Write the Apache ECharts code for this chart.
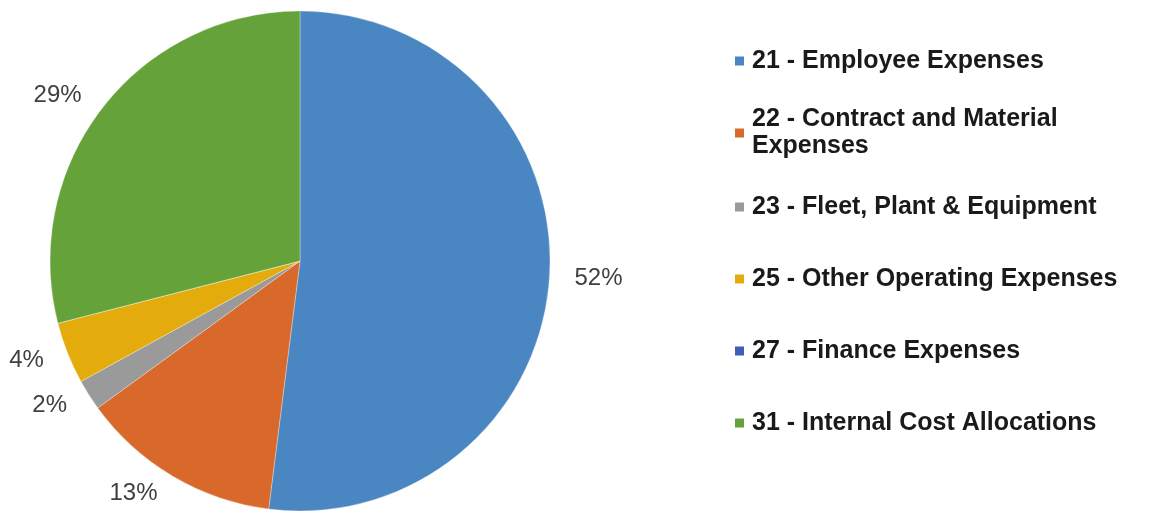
<!DOCTYPE html>
<html>
<head>
<meta charset="utf-8">
<script src="https://cdn.jsdelivr.net/npm/echarts@6/dist/echarts.min.js"></script>
<style>
  html, body { margin: 0; padding: 0; background: #ffffff; }
  #chart { width: 1152px; height: 516px; }
</style>
</head>
<body>
<div id="chart"></div>
<script>
// Expense categories and their share of the total (%)
const categories = [
  '21 - Employee Expenses',
  '22 - Contract and Material Expenses',
  '23 - Fleet, Plant & Equipment',
  '25 - Other Operating Expenses',
  '27 - Finance Expenses',
  '31 - Internal Cost Allocations'
];
const shares = [52, 13, 2, 4, 0, 29];
const colors = ['#4a86c2', '#d9692a', '#9a9a9a', '#e3ac0c', '#3f5fb5', '#65a23a'];

// Legend rows: vertical centre of each entry's marker
const legendCenters = [61, 133, 207, 279, 351, 423];

const data = categories.map((name, i) => ({
  name: name,
  value: shares[i],
  itemStyle: { color: colors[i] },
  label: { show: shares[i] > 0 }
}));

const legendFont = {
  fontFamily: "'Liberation Sans', Arial, sans-serif",
  fontWeight: 'bold',
  fontSize: 25,
  color: '#1a1a1a',
  lineHeight: 28,
  padding: [0, 0, 0, 3]
};

const legends = categories.map((name, i) => {
  const twoLine = name.indexOf('Contract') >= 0;
  return {
    data: [name],
    orient: 'vertical',
    left: 735,
    top: twoLine ? legendCenters[i] - 40.5 : legendCenters[i] - 14,
    padding: 0,
    icon: 'rect',
    itemWidth: 9,
    itemHeight: 9,
    itemGap: 0,
    itemStyle: { borderWidth: 0 },
    selectedMode: false,
    formatter: twoLine ? (n) => n.replace(' Expenses', '\nExpenses') : undefined,
    textStyle: twoLine
      ? Object.assign({}, legendFont, { lineHeight: 27, padding: [27, 0, 0, 3] })
      : legendFont
  };
});

const chart = echarts.init(document.getElementById('chart'), null, { renderer: 'canvas' });
chart.setOption({
  animation: false,
  backgroundColor: '#ffffff',
  legend: legends,
  series: [{
    type: 'pie',
    center: [300, 261],
    radius: 250,
    startAngle: 90,
    clockwise: true,
    avoidLabelOverlap: false,
    itemStyle: { borderColor: 'rgba(255,255,255,0.5)', borderWidth: 0.6 },
    label: {
      show: true,
      position: 'outside',
      formatter: (p) => p.value + '%',
      fontFamily: "'Liberation Sans', Arial, sans-serif",
      fontSize: 24,
      color: '#404040'
    },
    labelLine: { show: false, length: 20, length2: 0 },
    emphasis: { disabled: true },
    data: data
  }]
});
</script>
</body>
</html>
